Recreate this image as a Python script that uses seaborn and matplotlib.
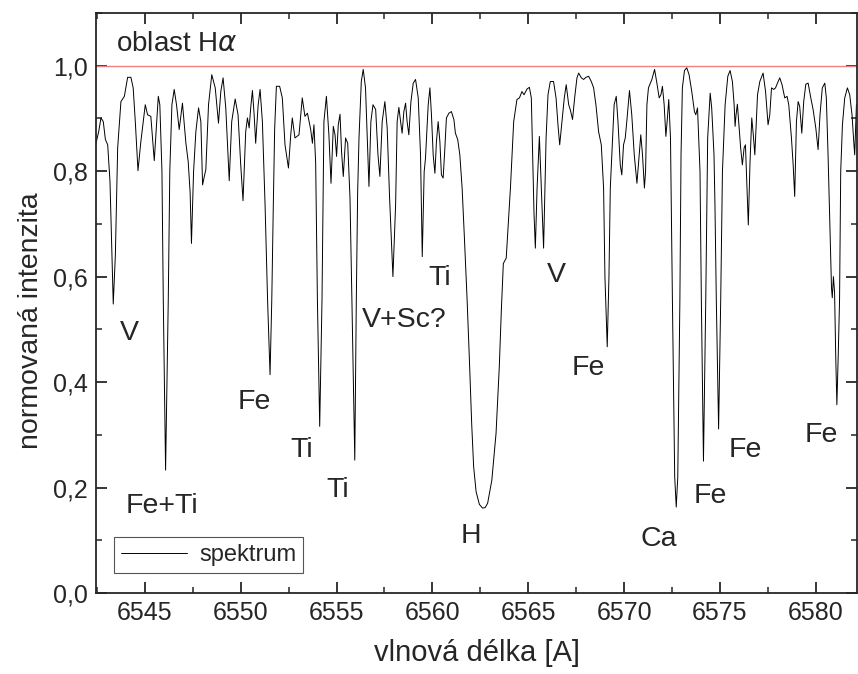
import pandas as pd
import seaborn as sns
import matplotlib
matplotlib.use('Agg')
import matplotlib.pyplot as plt
from matplotlib.ticker import MultipleLocator, FuncFormatter

# spectrum (wavelength [A], normalised intensity)
wavelength = [
    6542.45, 6542.59, 6542.71, 6542.83, 6542.94, 6543.06, 6543.18, 6543.28, 6543.35, 6543.46,
    6543.58, 6543.75, 6543.93, 6544.10, 6544.27, 6544.39, 6544.50, 6544.64, 6544.79, 6545.02,
    6545.14, 6545.31, 6545.49, 6545.70, 6545.78, 6545.89, 6545.96, 6546.08, 6546.22, 6546.30,
    6546.41, 6546.53, 6546.65, 6546.79, 6546.96, 6547.14, 6547.26, 6547.36, 6547.43, 6547.54,
    6547.66, 6547.80, 6547.92, 6548.01, 6548.10, 6548.18, 6548.32, 6548.49, 6548.67, 6548.84,
    6548.96, 6549.08, 6549.22, 6549.40, 6549.53, 6549.71, 6549.86, 6550.00, 6550.12, 6550.26,
    6550.35, 6550.44, 6550.52, 6550.61, 6550.70, 6550.78, 6550.91, 6551.01, 6551.13, 6551.27,
    6551.40, 6551.53, 6551.62, 6551.70, 6551.77, 6551.86, 6552.03, 6552.17, 6552.31, 6552.49,
    6552.61, 6552.69, 6552.83, 6553.04, 6553.21, 6553.35, 6553.48, 6553.65, 6553.74, 6553.82,
    6553.91, 6554.00, 6554.12, 6554.24, 6554.34, 6554.47, 6554.60, 6554.71, 6554.83, 6554.92,
    6555.00, 6555.09, 6555.18, 6555.26, 6555.35, 6555.47, 6555.58, 6555.70, 6555.80, 6555.95,
    6556.03, 6556.10, 6556.17, 6556.29, 6556.39, 6556.51, 6556.60, 6556.69, 6556.79, 6556.90,
    6557.04, 6557.16, 6557.26, 6557.38, 6557.52, 6557.64, 6557.76, 6557.94, 6558.08, 6558.16,
    6558.25, 6558.34, 6558.42, 6558.51, 6558.60, 6558.68, 6558.77, 6558.88, 6559.00, 6559.12,
    6559.26, 6559.38, 6559.47, 6559.57, 6559.64, 6559.78, 6559.87, 6559.95, 6560.04, 6560.13,
    6560.21, 6560.30, 6560.39, 6560.47, 6560.56, 6560.65, 6560.73, 6560.86, 6560.99, 6561.12,
    6561.20, 6561.32, 6561.43, 6561.55, 6561.67, 6561.81, 6561.93, 6562.05, 6562.15, 6562.28,
    6562.45, 6562.62, 6562.75, 6562.88, 6563.10, 6563.32, 6563.49, 6563.60, 6563.70, 6563.85,
    6564.07, 6564.24, 6564.41, 6564.54, 6564.67, 6564.78, 6564.94, 6565.06, 6565.16, 6565.23,
    6565.30, 6565.37, 6565.46, 6565.58, 6565.68, 6565.80, 6565.93, 6566.03, 6566.15, 6566.32,
    6566.45, 6566.55, 6566.64, 6566.76, 6566.88, 6566.98, 6567.11, 6567.19, 6567.31, 6567.42,
    6567.54, 6567.63, 6567.77, 6567.89, 6568.01, 6568.15, 6568.29, 6568.41, 6568.53, 6568.67,
    6568.81, 6568.93, 6569.00, 6569.12, 6569.21, 6569.28, 6569.36, 6569.48, 6569.59, 6569.68,
    6569.80, 6569.88, 6569.97, 6570.06, 6570.14, 6570.28, 6570.40, 6570.53, 6570.67, 6570.79,
    6570.87, 6570.96, 6571.06, 6571.12, 6571.19, 6571.27, 6571.45, 6571.59, 6571.71, 6571.83,
    6571.92, 6572.00, 6572.09, 6572.18, 6572.26, 6572.33, 6572.42, 6572.52, 6572.64, 6572.72,
    6572.80, 6572.91, 6572.97, 6573.04, 6573.15, 6573.27, 6573.39, 6573.53, 6573.67, 6573.74,
    6573.83, 6573.96, 6574.03, 6574.14, 6574.26, 6574.36, 6574.49, 6574.57, 6574.69, 6574.74,
    6574.81, 6574.93, 6575.04, 6575.13, 6575.27, 6575.41, 6575.53, 6575.65, 6575.74, 6575.79,
    6575.84, 6575.91, 6576.00, 6576.08, 6576.17, 6576.26, 6576.33, 6576.40, 6576.48, 6576.57,
    6576.66, 6576.74, 6576.82, 6576.96, 6577.08, 6577.25, 6577.38, 6577.51, 6577.60, 6577.69,
    6577.81, 6577.90, 6578.00, 6578.12, 6578.24, 6578.38, 6578.50, 6578.59, 6578.73, 6578.82,
    6578.90, 6578.99, 6579.08, 6579.16, 6579.27, 6579.37, 6579.48, 6579.60, 6579.74, 6579.86,
    6580.00, 6580.12, 6580.22, 6580.34, 6580.47, 6580.55, 6580.64, 6580.73, 6580.82, 6580.86,
    6580.92, 6580.98, 6581.04, 6581.10, 6581.17, 6581.24, 6581.30, 6581.39, 6581.51, 6581.65,
    6581.77, 6581.89, 6581.98, 6582.03, 6582.12, 6582.20,
]
intensity = [
    0.853, 0.875, 0.901, 0.894, 0.860, 0.850, 0.780, 0.640, 0.548, 0.641,
    0.844, 0.932, 0.942, 0.978, 0.978, 0.958, 0.894, 0.801, 0.856, 0.926,
    0.907, 0.904, 0.820, 0.942, 0.926, 0.800, 0.556, 0.233, 0.556, 0.800,
    0.926, 0.955, 0.926, 0.879, 0.929, 0.853, 0.818, 0.760, 0.663, 0.799,
    0.875, 0.920, 0.894, 0.774, 0.790, 0.803, 0.926, 0.983, 0.958, 0.891,
    0.951, 0.977, 0.920, 0.782, 0.894, 0.937, 0.907, 0.812, 0.744, 0.875,
    0.901, 0.882, 0.920, 0.953, 0.907, 0.853, 0.926, 0.955, 0.894, 0.736,
    0.556, 0.414, 0.556, 0.736, 0.880, 0.961, 0.961, 0.939, 0.850, 0.806,
    0.869, 0.901, 0.863, 0.869, 0.939, 0.904, 0.910, 0.879, 0.853, 0.888,
    0.815, 0.556, 0.316, 0.556, 0.894, 0.942, 0.869, 0.777, 0.885, 0.869,
    0.828, 0.888, 0.908, 0.837, 0.790, 0.863, 0.853, 0.750, 0.556, 0.252,
    0.556, 0.760, 0.863, 0.970, 0.993, 0.958, 0.863, 0.771, 0.894, 0.926,
    0.917, 0.831, 0.790, 0.894, 0.932, 0.882, 0.755, 0.600, 0.736, 0.894,
    0.921, 0.894, 0.872, 0.913, 0.929, 0.894, 0.869, 0.932, 0.967, 0.974,
    0.939, 0.831, 0.638, 0.799, 0.825, 0.926, 0.958, 0.907, 0.831, 0.796,
    0.856, 0.894, 0.856, 0.793, 0.787, 0.844, 0.901, 0.910, 0.913, 0.898,
    0.872, 0.860, 0.831, 0.768, 0.673, 0.556, 0.442, 0.320, 0.240, 0.192,
    0.168, 0.161, 0.162, 0.170, 0.214, 0.303, 0.430, 0.540, 0.625, 0.635,
    0.768, 0.894, 0.936, 0.939, 0.951, 0.945, 0.956, 0.959, 0.939, 0.831,
    0.720, 0.654, 0.768, 0.866, 0.768, 0.654, 0.863, 0.945, 0.970, 0.970,
    0.939, 0.888, 0.850, 0.894, 0.939, 0.964, 0.926, 0.917, 0.898, 0.939,
    0.977, 0.986, 0.977, 0.974, 0.978, 0.980, 0.970, 0.958, 0.926, 0.875,
    0.850, 0.768, 0.600, 0.467, 0.600, 0.768, 0.831, 0.926, 0.942, 0.894,
    0.812, 0.793, 0.850, 0.863, 0.894, 0.953, 0.907, 0.831, 0.777, 0.831,
    0.869, 0.831, 0.768, 0.800, 0.926, 0.958, 0.974, 0.993, 0.967, 0.939,
    0.945, 0.961, 0.926, 0.866, 0.901, 0.936, 0.863, 0.556, 0.220, 0.163,
    0.220, 0.556, 0.831, 0.958, 0.991, 0.996, 0.983, 0.951, 0.913, 0.907,
    0.920, 0.799, 0.556, 0.250, 0.556, 0.863, 0.948, 0.920, 0.831, 0.736,
    0.556, 0.311, 0.556, 0.799, 0.926, 0.980, 0.991, 0.970, 0.926, 0.885,
    0.907, 0.927, 0.882, 0.844, 0.812, 0.844, 0.850, 0.780, 0.698, 0.818,
    0.901, 0.869, 0.831, 0.945, 0.970, 0.986, 0.951, 0.888, 0.907, 0.958,
    0.955, 0.958, 0.967, 0.977, 0.964, 0.939, 0.942, 0.926, 0.863, 0.812,
    0.752, 0.894, 0.932, 0.923, 0.872, 0.932, 0.965, 0.967, 0.939, 0.917,
    0.882, 0.841, 0.907, 0.958, 0.967, 0.939, 0.831, 0.705, 0.578, 0.560,
    0.600, 0.570, 0.450, 0.357, 0.450, 0.556, 0.799, 0.888, 0.939, 0.958,
    0.945, 0.907, 0.856, 0.831, 0.926, 0.930,
]

# line identifications
line_names = ['V', 'Fe+Ti', 'Fe', 'Ti', 'Ti', 'V+Sc?', 'Ti', 'H',
              'V', 'Fe', 'Ca', 'Fe', 'Fe', 'Fe']
line_x = [6544.17, 6545.89, 6550.71, 6553.18, 6555.05, 6558.54, 6560.37, 6562.03,
          6566.46, 6568.13, 6571.80, 6574.51, 6576.30, 6580.29]
line_y = [0.480, 0.152, 0.349, 0.258, 0.182, 0.505, 0.584, 0.095,
          0.590, 0.414, 0.090, 0.171, 0.258, 0.287]

df = pd.DataFrame({'wl': wavelength, 'flux': intensity})

sns.set_style('ticks')
plt.rcParams['font.family'] = ['Liberation Sans', 'DejaVu Sans']

fig = plt.figure(figsize=(8.58, 6.74), dpi=100)
ax = fig.add_axes([96 / 858, 1 - 593 / 674, 761 / 858, 580 / 674])

sns.lineplot(data=df, x='wl', y='flux', ax=ax, color='black', lw=0.7,
             estimator=None, sort=False, label='spektrum')
ax.axhline(1.0, color='#f08080', lw=1.0, zorder=1)

for name, x, y in zip(line_names, line_x, line_y):
    ax.text(x, y, name, ha='center', va='baseline', fontsize=20.5)
ax.text(6543.49, 1.027, r'oblast H$\alpha$', ha='left', va='baseline', fontsize=20)

ax.set_xlim(6542.45, 6582.15)
ax.set_ylim(0, 1.1)
ax.xaxis.set_major_locator(MultipleLocator(5))
ax.xaxis.set_minor_locator(MultipleLocator(2.5))
ax.set_yticks([0, 0.2, 0.4, 0.6, 0.8, 1.0])
ax.yaxis.set_minor_locator(MultipleLocator(0.1))
ax.yaxis.set_major_formatter(FuncFormatter(lambda v, p: f'{v:.1f}'.replace('.', ',')))
ax.tick_params(which='both', direction='in', top=True, right=True, labelsize=18, pad=6)
ax.tick_params(which='major', length=8, width=1.3)
ax.tick_params(which='minor', length=4.5, width=1.1)
for s in ax.spines.values():
    s.set_linewidth(1.3)

ax.set_xlabel('vlnová délka [A]', fontsize=21, labelpad=10)
ax.set_ylabel('normovaná intenzita', fontsize=20.5)
ax.yaxis.set_label_coords(-0.068, 0.47)

leg = ax.legend(loc='lower left', bbox_to_anchor=(0.024, 0.034), borderaxespad=0,
                fancybox=False, edgecolor='#555555', framealpha=1, fontsize=17,
                handlelength=2.8, borderpad=0.3, handletextpad=0.5)
leg.get_frame().set_linewidth(0.8)

fig.savefig('out.png', dpi=100)
